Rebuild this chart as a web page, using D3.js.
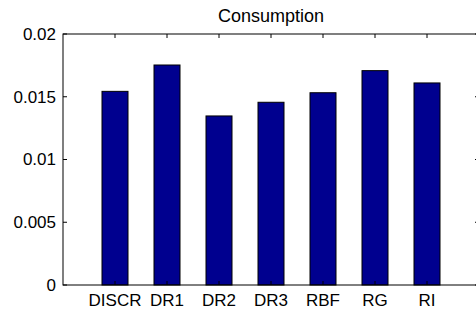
<!DOCTYPE html>
<html>
<head>
<meta charset="utf-8">
<script src="https://d3js.org/d3.v7.min.js"></script>
<style>
  body { margin: 0; background: #fff; }
  svg { display: block; font-family: "Liberation Sans", Arial, sans-serif; }
</style>
</head>
<body>
<svg id="chart" width="476" height="314"></svg>
<script>
const categories = ["DISCR", "DR1", "DR2", "DR3", "RBF", "RG", "RI"];
const values = [0.01543, 0.01753, 0.01347, 0.01456, 0.01532, 0.01708, 0.0161];
const yTicks = [0, 0.005, 0.01, 0.015, 0.02];
const yTickLabels = ["0", "0.005", "0.01", "0.015", "0.02"];
const title = "Consumption";

const margin = {top: 34, left: 63, bottom: 29};
const W = 476, H = 314;
const plotW = 416, plotH = H - margin.top - margin.bottom;

const svg = d3.select("#chart");
const g = svg.append("g").attr("transform", `translate(${margin.left},${margin.top})`);

// matlab style: x from 0 to n+1, bars at 1..n
const x = d3.scaleLinear().domain([0, categories.length + 1]).range([0, plotW]);
const y = d3.scaleLinear().domain([0, 0.02]).range([plotH, 0]);
const barW = 0.5;

g.selectAll("rect.bar")
  .data(values)
  .enter()
    .append("rect")
    .attr("class", "bar")
    .attr("x", (d, i) => x(i + 1 - barW / 2))
    .attr("y", d => y(d))
    .attr("width", x(barW) - x(0))
    .attr("height", d => y(0) - y(d))
    .attr("fill", "#00008f")
    .attr("stroke", "#000")
    .attr("stroke-width", 1);

// box
g.append("rect")
  .attr("x", 0).attr("y", 0)
  .attr("width", plotW).attr("height", plotH)
  .attr("fill", "none")
  .attr("stroke", "#000")
  .attr("stroke-width", 1);

const tickLen = 4;

// y ticks, left and right, pointing inward
yTicks.forEach((t, i) => {
  g.append("line")
    .attr("x1", 0).attr("x2", tickLen)
    .attr("y1", y(t)).attr("y2", y(t))
    .attr("stroke", "#000");
  g.append("line")
    .attr("x1", plotW - tickLen).attr("x2", plotW)
    .attr("y1", y(t)).attr("y2", y(t))
    .attr("stroke", "#000");
  g.append("text")
    .attr("x", -7)
    .attr("y", y(t))
    .attr("dy", "0.35em")
    .attr("text-anchor", "end")
    .style("font-size", "17px")
    .text(yTickLabels[i]);
});

// x ticks, top and bottom
categories.forEach((c, i) => {
  g.append("line")
    .attr("x1", x(i + 1)).attr("x2", x(i + 1))
    .attr("y1", 0).attr("y2", tickLen)
    .attr("stroke", "#000");
  g.append("line")
    .attr("x1", x(i + 1)).attr("x2", x(i + 1))
    .attr("y1", plotH - tickLen).attr("y2", plotH)
    .attr("stroke", "#000");
  g.append("text")
    .attr("x", x(i + 1))
    .attr("y", plotH + 21)
    .attr("text-anchor", "middle")
    .style("font-size", "17px")
    .text(c);
});

svg.append("text")
  .attr("x", margin.left + plotW / 2)
  .attr("y", 22)
  .attr("text-anchor", "middle")
  .style("font-size", "18px")
  .text(title);
</script>
</body>
</html>
